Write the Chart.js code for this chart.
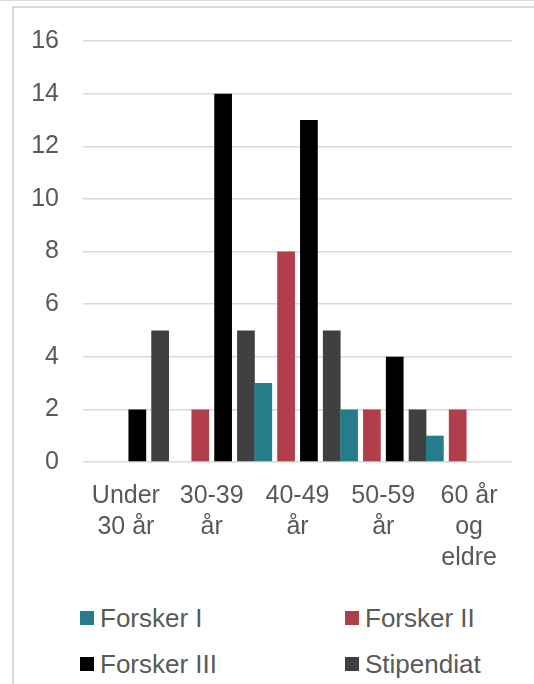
<!DOCTYPE html>
<html>
<head>
<meta charset="utf-8">
<script src="https://cdn.jsdelivr.net/npm/chart.js@4/dist/chart.umd.min.js"></script>
<style>
    body { margin: 0; width: 534px; height: 684px; overflow: hidden; background: #fff; font-family: "Liberation Sans", Arial, sans-serif; }
    #top-line { position: absolute; left: 0; top: 0; width: 534px; height: 1px; background: #dcdcdc; }
    #frame { position: absolute; left: 12px; top: 6px; width: 560px; height: 720px; border: 2px solid #d9d9d9; box-sizing: border-box; }
    #chart-wrap { position: absolute; left: 0; top: 0; width: 534px; height: 590px; }
    #legend { position: absolute; left: 80px; top: 604px; display: grid; grid-template-columns: 265px 200px; row-gap: 18px; }
    .legend-item { display: flex; align-items: center; font-size: 26px; color: #595959; height: 28px; }
    .legend-box { width: 14px; height: 14px; margin-right: 6px; }
</style>
</head>
<body>
<div id="top-line"></div>
<div id="frame"></div>
<div id="chart-wrap"><canvas id="age-chart" width="534" height="590"></canvas></div>
<div id="legend"></div>
<script>
// Categories (age groups)
const ageGroups = [['Under', '30 år'], ['30-39', 'år'], ['40-49', 'år'], ['50-59', 'år'], ['60 år', 'og', 'eldre']];

// Series values
const forskerI = [0, 0, 3, 2, 1];
const forskerII = [0, 2, 8, 2, 2];
const forskerIII = [2, 14, 13, 4, 0];
const stipendiat = [5, 5, 5, 2, 0];

// Y axis ticks
const yTicks = [0, 2, 4, 6, 8, 10, 12, 14, 16];

const seriesNames = ['Forsker I', 'Forsker II', 'Forsker III', 'Stipendiat'];
const seriesColors = ['#267C8A', '#B33E4B', '#000000', '#404040'];

let ageChart = null;

function buildDatasets() {
    const values = [forskerI, forskerII, forskerIII, stipendiat];
    return values.map((data, i) => ({
        label: seriesNames[i],
        data: data,
        backgroundColor: seriesColors[i],
        barPercentage: 0.776,
        categoryPercentage: 1.064
    }));
}

function initChart() {
    const ctx = document.getElementById('age-chart').getContext('2d');
    ageChart = new Chart(ctx, {
        type: 'bar',
        data: {
            labels: ageGroups,
            datasets: buildDatasets()
        },
        options: {
            responsive: false,
            animation: false,
            layout: {
                padding: { top: 41, right: 22, left: 0, bottom: 0 }
            },
            plugins: {
                legend: { display: false },
                tooltip: { enabled: false }
            },
            scales: {
                x: {
                    grid: { display: false },
                    border: { display: false },
                    ticks: {
                        color: '#595959',
                        font: { family: '"Liberation Sans", Arial, sans-serif', size: 25, lineHeight: 1.23 },
                        padding: 11,
                        maxRotation: 0,
                        autoSkip: false
                    },
                    afterFit: function(scale) { scale.height = 128; }
                },
                y: {
                    min: 0,
                    max: 16,
                    afterBuildTicks: function(scale) {
                        scale.ticks = yTicks.map(v => ({ value: v }));
                    },
                    grid: { color: '#d9d9d9', lineWidth: 1.5, drawTicks: false },
                    border: { display: false },
                    ticks: {
                        color: '#595959',
                        font: { family: '"Liberation Sans", Arial, sans-serif', size: 25 },
                        padding: 24
                    },
                    afterFit: function(scale) { scale.width = 83; }
                }
            }
        }
    });
    buildLegend();
}

// Two-column legend under the chart
function buildLegend() {
    const legend = document.getElementById('legend');
    ageChart.data.datasets.forEach(ds => {
        const item = document.createElement('div');
        item.className = 'legend-item';
        const box = document.createElement('span');
        box.className = 'legend-box';
        box.style.background = ds.backgroundColor;
        const text = document.createElement('span');
        text.textContent = ds.label;
        item.appendChild(box);
        item.appendChild(text);
        legend.appendChild(item);
    });
}

initChart();
</script>
</body>
</html>
